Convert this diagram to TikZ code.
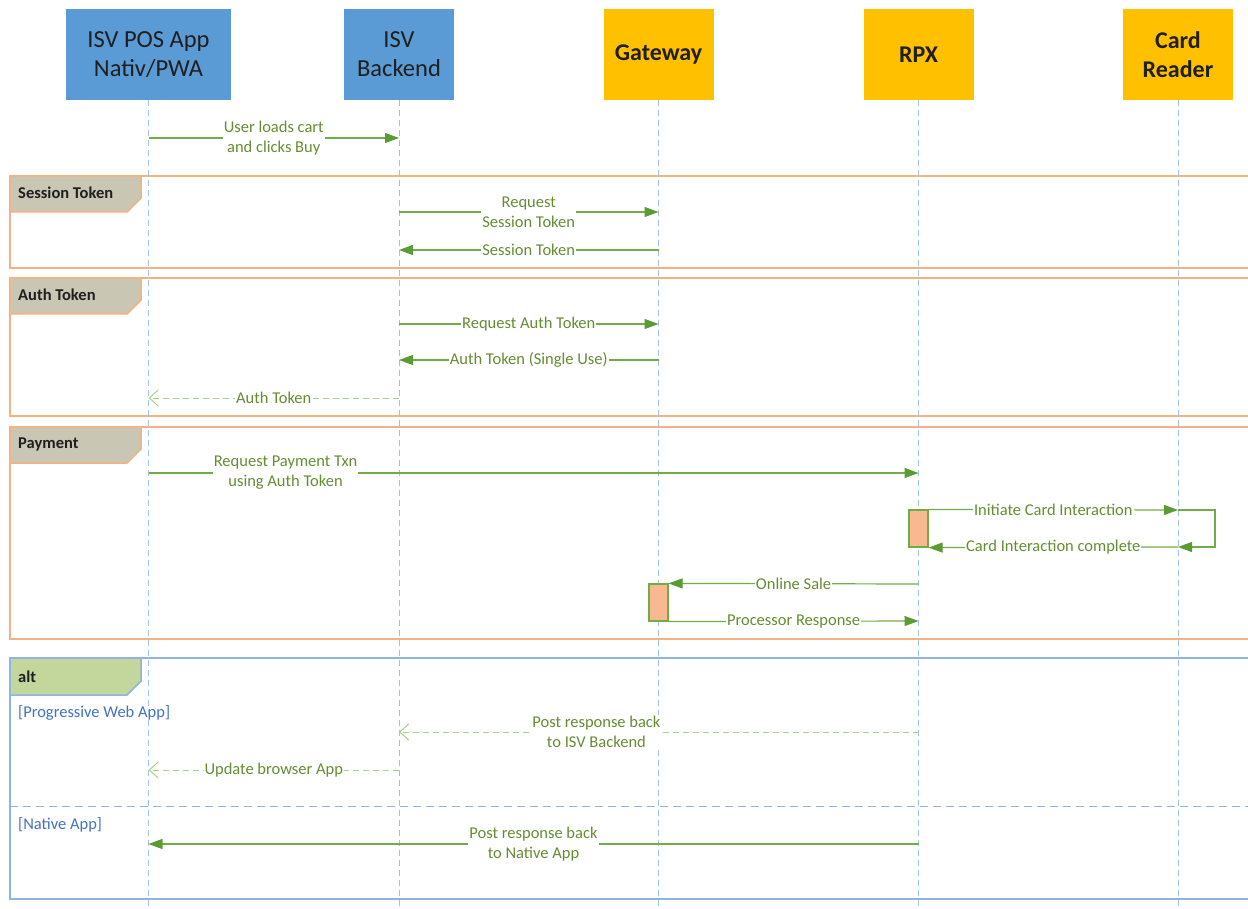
\documentclass[tikz,border=0pt]{standalone}
\usepackage{fontspec}
\setmainfont{Carlito}
\usetikzlibrary{arrows.meta}
\definecolor{hdrblue}{HTML}{5B9BD5}
\definecolor{hdrgold}{HTML}{FFC000}
\definecolor{life}{HTML}{9DC3E6}
\definecolor{frameor}{HTML}{F4B183}
\definecolor{tagbg}{HTML}{C9C6B4}
\definecolor{altblue}{HTML}{8EB4E3}
\definecolor{altgreen}{HTML}{C3D69B}
\definecolor{msg}{HTML}{70AD47}
\definecolor{msghead}{HTML}{5B9B33}
\definecolor{msgtxt}{HTML}{668C33}
\definecolor{dashmsg}{HTML}{A9D18E}
\definecolor{actfill}{HTML}{F8B890}
\definecolor{guard}{HTML}{4472C4}
\definecolor{darktxt}{HTML}{1F1F1F}
\tikzset{
  hdr/.style={minimum height=91pt, inner sep=0pt, align=center, text=darktxt},
  hdrisv/.style={hdr, fill=hdrblue, font=\fontsize{24.5}{29}\selectfont},
  hdrsys/.style={hdr, fill=hdrgold, font=\fontsize{24}{29}\selectfont\bfseries},
  lifeline/.style={draw=life, line width=1pt, dash pattern=on 6pt off 4pt},
  msgarrow/.style={draw=msg, line width=1.2pt, -{Triangle[length=14pt,width=10pt,color=msghead]}},
  replyarrow/.style={draw=dashmsg, line width=1pt, dash pattern=on 6pt off 4pt, -{Straight Barb[length=9pt,width=16pt,line width=1pt]}},
  lbl/.style={fill=white, text=msgtxt, font=\fontsize{16.5}{20}\selectfont, inner sep=1pt, align=center},
  framebox/.style={draw=frameor, line width=1.5pt},
  altframe/.style={draw=altblue, line width=1.5pt},
  tagtext/.style={anchor=west, font=\fontsize{16.5}{18}\selectfont\bfseries, text=darktxt, inner sep=0pt},
  guardtext/.style={anchor=west, font=\fontsize{16.5}{18}\selectfont, text=guard, inner sep=0pt},
  actbox/.style={fill=actfill, draw=msg, line width=1.2pt},
}
\begin{document}
\begin{tikzpicture}[x=1pt,y=-1pt]
\useasboundingbox (0,0) rectangle (1248,909);
\fill[white] (0,0) rectangle (1248,909);

% headers
\node[hdrisv, minimum width=165pt] (app) at (148.5,54.5) {ISV POS App\\Nativ/PWA};
\node[hdrisv, minimum width=110pt] (be) at (399,54.5) {ISV\\Backend};
\node[hdrsys, minimum width=110pt] (gw) at (658.5,54.5) {Gateway};
\node[hdrsys, minimum width=110pt] (rpx) at (918.5,54.5) {RPX};
\node[hdrsys, minimum width=110pt] (cr) at (1178,54.5) {Card\\Reader};

% frames
\draw[framebox] (10,176) rectangle (1262,268);
\draw[framebox, fill=tagbg] (10,176) -- (141,176) -- (141,198) -- (127,212) -- (10,212) -- cycle;
\node[tagtext] (t1) at (18,193) {Session Token};

\draw[framebox] (10,278) rectangle (1262,416);
\draw[framebox, fill=tagbg] (10,278) -- (141,278) -- (141,300) -- (127,314) -- (10,314) -- cycle;
\node[tagtext] (t2) at (18,295) {Auth Token};

\draw[framebox] (10,427) rectangle (1262,639);
\draw[framebox, fill=tagbg] (10,427) -- (141,427) -- (141,449) -- (127,463) -- (10,463) -- cycle;
\node[tagtext] (t3) at (18,444) {Payment};

\draw[altframe] (10,658) rectangle (1262,899);
\draw[altframe, fill=altgreen] (10,658) -- (141,658) -- (141,681) -- (127,695) -- (10,695) -- cycle;
\node[tagtext] (t4) at (18,677) {alt};
\draw[draw=altblue, line width=1pt, dash pattern=on 8pt off 5pt] (10,806) -- (1262,806);
\node[guardtext] (g1) at (18,713) {[Progressive Web App]};
\node[guardtext] (g2) at (18,825) {[Native App]};

% lifelines
\foreach \n in {app,be,gw,rpx,cr} \draw[lifeline] (\n.south) -- (\n.south |- 0,909);

% activation boxes
\node[actbox, minimum width=19pt, minimum height=37pt, inner sep=0pt] (act1) at (918.5,528.5) {};
\node[actbox, minimum width=19pt, minimum height=37pt, inner sep=0pt] (act2) at (658.5,602.5) {};

% messages
\draw[msgarrow] (app |- 0,138) -- node[lbl] {User loads cart\\and clicks Buy} (be |- 0,138);
\draw[msgarrow] (be |- 0,212) -- node[lbl] {Request\\Session Token} (gw |- 0,212);
\draw[msgarrow] (gw |- 0,250) -- node[lbl] {Session Token} (be |- 0,250);
\draw[msgarrow] (be |- 0,324) -- node[lbl] {Request Auth Token} (gw |- 0,324);
\draw[msgarrow] (gw |- 0,360) -- node[lbl] {Auth Token (Single Use)} (be |- 0,360);
\draw[replyarrow] (be |- 0,398) -- node[lbl] {Auth Token} (app |- 0,398);
\draw[msgarrow] (app |- 0,473) -- node[lbl, pos=0.178] {Request Payment Txn\\using Auth Token} (rpx |- 0,473);

\coordinate (loopa) at (1215,510);
\coordinate (loopb) at (1215,547);
\draw[msgarrow] (act1.north east) -- node[lbl] {Initiate Card Interaction} (cr |- 0,510);
\draw[msgarrow] (cr |- 0,510) -- (loopa) -- (loopb) -- (cr |- 0,547);
\draw[msgarrow] (cr |- 0,547) -- node[lbl] {Card Interaction complete} (act1.south east);

\draw[msgarrow] (rpx |- 0,584) -- node[lbl] {Online Sale} (act2.north east);
\draw[msgarrow] (act2.south east) -- node[lbl] {Processor Response} (rpx |- 0,621);

\draw[replyarrow] (rpx |- 0,732) -- node[lbl, pos=0.62] {Post response back\\to ISV Backend} (be |- 0,732);
\draw[replyarrow] (be |- 0,770) -- node[lbl] {Update browser App} (app |- 0,770);
\draw[msgarrow] (rpx |- 0,844) -- node[lbl] {Post response back\\to Native App} (app |- 0,844);
\end{tikzpicture}
\end{document}
